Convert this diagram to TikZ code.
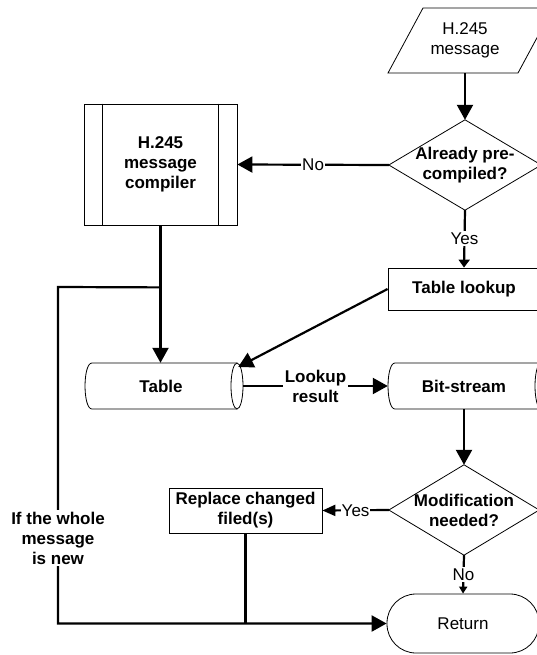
\documentclass[tikz,border=0pt]{standalone}
\usepackage{fontspec}
\setmainfont{Liberation Sans}
\usetikzlibrary{arrows.meta,calc}
\begin{document}
\begin{tikzpicture}[x=1pt,y=-1pt,
  font=\fontsize{17}{20}\selectfont,
  shapeline/.style={draw=black, line width=0.8pt},
  boldtext/.style={font=\fontsize{17}{20}\selectfont\bfseries},
  conn/.style={line width=2.2pt},
  bigarr/.style={conn, -{Triangle[length=15pt,width=16pt]}},
  midarr/.style={conn, -{Triangle[length=13pt,width=11pt]}},
  smallarr/.style={conn, -{Triangle[length=8pt,width=11pt]}},
  tinyarr/.style={conn, -{Triangle[length=7pt,width=8pt]}},
  lbl/.style={fill=white, inner sep=1.5pt, align=center},
]
\useasboundingbox (0,0) rectangle (537,655);
\clip (0,0) rectangle (537,655);

% input parallelogram
\draw[shapeline] (388,73) -- (423,8) -- (553,8) -- (518,73) -- cycle;
\node[minimum width=130pt, minimum height=65pt, align=center, inner sep=0pt] (msg) at (465,40.5) {H.245\\message};

% decision 1
\node[boldtext, minimum width=152pt, minimum height=90pt, align=center, inner sep=0pt] (q1) at (465,165) {Already pre-\\compiled?};
\draw[shapeline] (q1.north) -- (q1.east) -- (q1.south) -- (q1.west) -- cycle;

% compiler (predefined process)
\node[shapeline, boldtext, minimum width=153pt, minimum height=121pt, align=center] (comp) at (160.5,164.5) {H.245\\message\\compiler};
\draw[shapeline] ([xshift=19pt]comp.north west) -- ([xshift=19pt]comp.south west);
\draw[shapeline] ([xshift=-19pt]comp.north east) -- ([xshift=-19pt]comp.south east);

% table lookup
\node[shapeline, boldtext, minimum width=152pt, minimum height=42pt] (look) at (464,289) {Table lookup};

% Table storage
\draw[shapeline] (237,363) -- (92,363) .. controls (82.7,363) and (82.7,409) .. (92,409) -- (237,409);
\draw[shapeline] (237,386) ellipse [x radius=6pt, y radius=23pt];
\node[boldtext, minimum width=152pt, minimum height=46pt, inner sep=0pt] (table) at (161,386) {Table};

% Bit-stream storage
\draw[shapeline] (541,363) -- (395,363) .. controls (385.7,363) and (385.7,409) .. (395,409) -- (541,409);
\draw[shapeline] (541,386) ellipse [x radius=6pt, y radius=23pt];
\node[boldtext, minimum width=152pt, minimum height=46pt, inner sep=0pt] (bits) at (464,386) {Bit-stream};

% decision 2
\node[boldtext, minimum width=150pt, minimum height=90pt, align=center, inner sep=0pt] (q2) at (464,510) {Modification\\needed?};
\draw[shapeline] (q2.north) -- (q2.east) -- (q2.south) -- (q2.west) -- cycle;

% replace
\node[shapeline, boldtext, minimum width=153pt, minimum height=45pt, align=center, inner sep=0pt] (rep) at (245.5,510.5) {Replace changed\\filed(s)};

% return
\node[shapeline, rounded corners=29pt, minimum width=152pt, minimum height=59pt] (ret) at (463,623.5) {Return};

% connectors
\draw[bigarr] (msg.south) -- (q1.north);
\draw[bigarr] (q1.west) -- node[lbl]{No} (comp.east);
\draw[smallarr] (q1.south) -- node[lbl]{Yes} (look.north);
\draw[bigarr] (look.west) -- ([xshift=1pt,yshift=19pt]table.east);
\draw[bigarr] (comp.south) -- (comp.south |- table.north);
\path (comp.south) ++(0,62) coordinate (j);
\coordinate (c1) at (58,287);
\draw[bigarr] (j) -- (c1) -- (c1 |- ret.west) -- (ret.west);
\node[lbl, boldtext] (newlbl) at (58,538) {If the whole\\message\\is new};
\draw[bigarr] ([xshift=6pt]table.east) -- node[lbl, boldtext]{Lookup\\result} (bits.west);
\draw[bigarr] (bits.south) -- (q2.north);
\draw[midarr] (q2.west) -- node[lbl, inner sep=0.5pt]{Yes} (rep.east);
\draw[tinyarr] (q2.south) -- node[lbl]{No} (ret.north);
\draw[conn] (rep.south) -- (rep.south |- ret.west);
\end{tikzpicture}
\end{document}
